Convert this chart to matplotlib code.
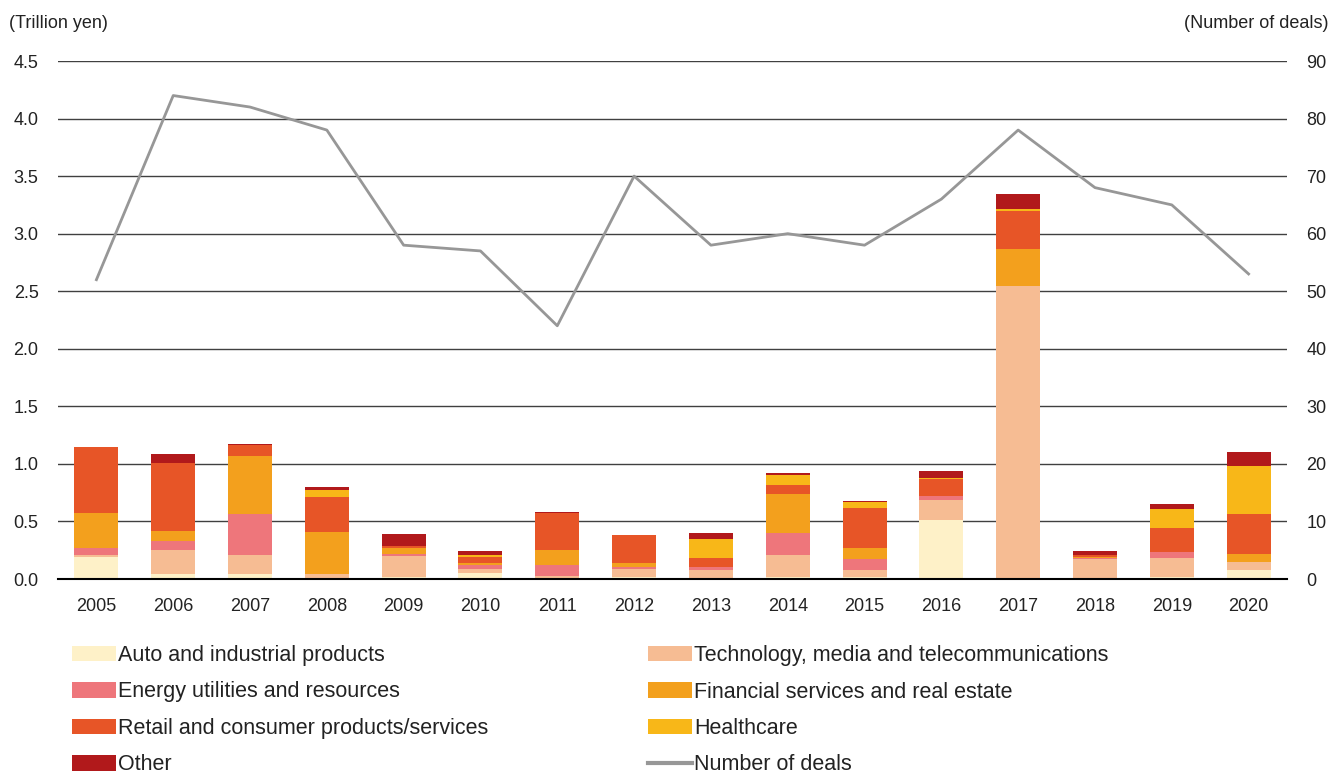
import numpy as np
import matplotlib
matplotlib.use('Agg')
import matplotlib.pyplot as plt
from matplotlib.patches import Patch
from matplotlib.lines import Line2D

plt.rcParams['font.family'] = ['Liberation Sans', 'DejaVu Sans']

years = ['2005', '2006', '2007', '2008', '2009', '2010', '2011', '2012',
         '2013', '2014', '2015', '2016', '2017', '2018', '2019', '2020']

# trillion yen
auto = [0.19, 0.04, 0.04, 0.01, 0.02, 0.055, 0.0, 0.02, 0.01, 0.02, 0.02, 0.51, 0.005, 0.01, 0.02, 0.08]
tech = [0.02, 0.21, 0.165, 0.036, 0.18, 0.035, 0.03, 0.07, 0.07, 0.19, 0.06, 0.175, 2.54, 0.165, 0.165, 0.07]
energy = [0.06, 0.08, 0.36, 0.0, 0.02, 0.035, 0.095, 0.01, 0.02, 0.19, 0.09, 0.035, 0.0, 0.01, 0.05, 0.0]
financial = [0.30, 0.09, 0.50, 0.363, 0.05, 0.012, 0.13, 0.035, 0.0, 0.34, 0.095, 0.005, 0.32, 0.01, 0.0, 0.07]
retail = [0.58, 0.59, 0.095, 0.303, 0.02, 0.058, 0.32, 0.25, 0.08, 0.08, 0.355, 0.145, 0.33, 0.015, 0.21, 0.345]
health = [0.0, 0.0, 0.0, 0.06, 0.0, 0.01, 0.0, 0.0, 0.17, 0.085, 0.045, 0.01, 0.017, 0.0, 0.165, 0.415]
other = [0.0, 0.08, 0.01, 0.026, 0.10, 0.035, 0.01, 0.0, 0.05, 0.02, 0.01, 0.06, 0.13, 0.035, 0.045, 0.12]

deals = [52, 84, 82, 78, 58, 57, 44, 70, 58, 60, 58, 66, 78, 68, 65, 53]

series = [
    ('Auto and industrial products', auto, '#FEF1C8'),
    ('Technology, media and telecommunications', tech, '#F6BC93'),
    ('Energy utilities and resources', energy, '#EE767B'),
    ('Financial services and real estate', financial, '#F3A01D'),
    ('Retail and consumer products/services', retail, '#E75527'),
    ('Healthcare', health, '#F8B718'),
    ('Other', other, '#B1191B'),
]

fig = plt.figure(figsize=(13.32, 7.73), dpi=100)
ax = fig.add_axes([58 / 1332, 1 - 579 / 773, 1229 / 1332, 518 / 773])

x = np.arange(len(years))
bottom = np.zeros(len(years))
handles = {}
for name, vals, col in series:
    vals = np.array(vals)
    ax.bar(x, vals, 0.573, bottom=bottom, color=col, zorder=3)
    bottom += vals
    handles[name] = Patch(facecolor=col)

ax.set_xlim(-0.5, 15.5)
ax.set_ylim(0, 4.5)
ax.set_yticks(np.arange(0, 4.51, 0.5))
ax.set_yticklabels(['%.1f' % v for v in np.arange(0, 4.51, 0.5)])
ax.set_xticks(x)
ax.set_xticklabels(years)
ax.grid(axis='y', color='#404040', lw=1.0, zorder=0)
for s in ['top', 'right', 'left']:
    ax.spines[s].set_visible(False)
ax.spines['bottom'].set_color('black')
ax.spines['bottom'].set_linewidth(1.5)
ax.spines['bottom'].set_zorder(4)
ax.tick_params(axis='both', length=0, labelsize=13, colors='#222222')
ax.tick_params(axis='x', pad=14)
ax.tick_params(axis='y', pad=14)

ax2 = ax.twinx()
ax2.set_ylim(0, 90)
ax2.set_yticks(np.arange(0, 91, 10))
for s in ax2.spines.values():
    s.set_visible(False)
ax2.tick_params(axis='y', length=0, labelsize=13, colors='#222222', pad=14)
ax2.plot(x, deals, color='#979797', lw=2.0, zorder=5)

fig.text(9 / 1332, 1 - 23 / 773, '(Trillion yen)', fontsize=13, va='center', ha='left', color='#222222')
fig.text(1328 / 1332, 1 - 23 / 773, '(Number of deals)', fontsize=13, va='center', ha='right', color='#222222')

line_h = Line2D([], [], color='#979797', lw=3)
col1 = ['Auto and industrial products', 'Energy utilities and resources',
        'Retail and consumer products/services', 'Other']
col2 = ['Technology, media and telecommunications', 'Financial services and real estate', 'Healthcare']
leg_kw = dict(frameon=False, fontsize=15.5, handlelength=2.05, handleheight=0.7, handletextpad=0.1,
              labelspacing=0.72, borderpad=0, borderaxespad=0, loc='upper left')
l1 = fig.legend([handles[n] for n in col1], col1, bbox_to_anchor=(72 / 1332, 1 - 645 / 773), **leg_kw)
l2 = fig.legend([handles[n] for n in col2] + [line_h], col2 + ['Number of deals'],
                bbox_to_anchor=(648 / 1332, 1 - 645 / 773), **leg_kw)
for l in (l1, l2):
    for txt in l.get_texts():
        txt.set_color('#222222')

fig.savefig('out.png', dpi=100)
